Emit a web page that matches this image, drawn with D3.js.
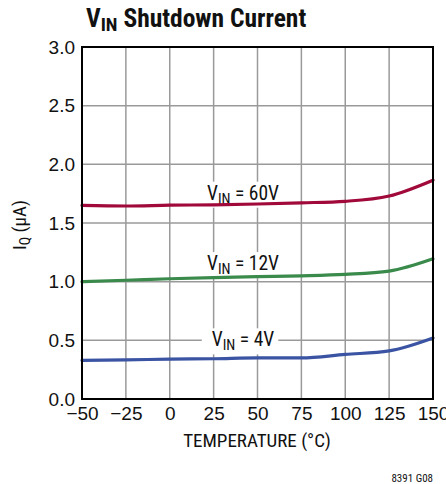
<!DOCTYPE html>
<html><head><meta charset="utf-8">
<script src="https://cdn.jsdelivr.net/npm/d3@7"></script>
<style>
html,body{margin:0;padding:0;background:#fff;}
svg text{font-family:"Liberation Sans Narrow","Arial Narrow","Roboto Condensed",sans-serif;}
</style></head>
<body><svg id="c" width="446" height="484"></svg>
<script>
const temps = [-50, -25, 0, 25, 50, 75, 100, 125, 150];
const iq60 = [1.65, 1.645, 1.652, 1.655, 1.662, 1.672, 1.685, 1.73, 1.865];
const iq12 = [1.0, 1.012, 1.025, 1.035, 1.043, 1.05, 1.062, 1.09, 1.195];
const iq4 = [0.33, 0.333, 0.34, 0.343, 0.35, 0.35, 0.38, 0.41, 0.52];
const xTicks = [-50, -25, 0, 25, 50, 75, 100, 125, 150];
const yTicks = [0, 0.5, 1.0, 1.5, 2.0, 2.5, 3.0];
const seriesNames = ["60V", "12V", "4V"];
const seriesColors = ["#a0093a", "#3a8a4c", "#3a53a3"];

const svg = d3.select("#c");
const L = 82, R = 433, T = 47, B = 399;
const x = d3.scaleLinear().domain([-50, 150]).range([L, R]);
const y = d3.scaleLinear().domain([0, 3]).range([B, T]);
const FS = 19;

// grid
svg.append("g").selectAll("line").data(xTicks.slice(1, -1)).join("line")
  .attr("x1", d => x(d)).attr("x2", d => x(d)).attr("y1", T).attr("y2", B)
  .attr("stroke", "#9a9a9a").attr("stroke-width", 1.5);
svg.append("g").selectAll("line").data(yTicks.slice(1, -1)).join("line")
  .attr("y1", d => y(d)).attr("y2", d => y(d)).attr("x1", L).attr("x2", R)
  .attr("stroke", "#9a9a9a").attr("stroke-width", 1.5);

// axes
const fmtY = d3.format(".1f");
const xAxis = d3.axisBottom(x).tickValues(xTicks).tickSize(0).tickPadding(8)
  .tickFormat(d => d < 0 ? "\u2212" + Math.abs(d) : d);
const yAxis = d3.axisLeft(y).tickValues(yTicks).tickSize(0).tickPadding(7).tickFormat(fmtY);
const gx = svg.append("g").attr("transform", `translate(0,${B})`).call(xAxis);
const gy = svg.append("g").attr("transform", `translate(${L},0)`).call(yAxis);
[gx, gy].forEach(g => {
  g.select(".domain").remove();
  g.selectAll("text").attr("font-size", FS).attr("fill", "#111")
   .style("font-family", '"Liberation Sans Narrow","Arial Narrow",sans-serif');
});
gx.selectAll("text").attr("dy", "0.71em");

// labels with white boxes
const labelY = [1.75, 1.15, 0.5];
const labelX = [243, 243, 243];
const labels = svg.append("g");
seriesNames.forEach((n, i) => {
  const g = labels.append("g");
  const t = g.append("text").attr("x", labelX[i]).attr("y", y(labelY[i]) + 6)
    .attr("text-anchor", "middle").attr("font-size", FS + 0.5).attr("fill", "#111");
  t.append("tspan").text("V");
  t.append("tspan").attr("font-size", 14.5).attr("dy", 4).text("IN");
  t.append("tspan").attr("dy", -4).text(" = " + n);
  const bb = t.node().getBBox();
  const pad = i === 2 ? 10 : 4;
  g.insert("rect", "text").attr("x", bb.x - pad).attr("y", bb.y).attr("width", bb.width + pad + 4)
    .attr("height", bb.height).attr("fill", "#fff");
});

// lines
const line = d3.line().x((d, i) => x(temps[i])).y(d => y(d)).curve(d3.curveMonotoneX);
[iq60, iq12, iq4].forEach((s, i) => {
  svg.append("path").attr("d", line(s)).attr("fill", "none")
    .attr("stroke", seriesColors[i]).attr("stroke-width", 3.2).attr("stroke-linecap", "round");
});

// frame
svg.append("rect").attr("x", L).attr("y", T).attr("width", R - L).attr("height", B - T)
  .attr("fill", "none").attr("stroke", "#000").attr("stroke-width", 2);

// title
const tt = svg.append("text").attr("x", 86).attr("y", 27).attr("font-size", 25.5)
  .attr("font-weight", "bold").attr("fill", "#111");
tt.append("tspan").text("V");
tt.append("tspan").attr("font-size", 19).attr("dy", 4).text("IN");
tt.append("tspan").attr("dy", -4).text(" Shutdown Current");

// axis titles
svg.append("text").attr("x", 257).attr("y", 447).attr("text-anchor", "middle")
  .attr("font-size", FS).attr("fill", "#111").text("TEMPERATURE (°C)");
const yt = svg.append("text").attr("transform", `translate(26,${y(1.5) + 2}) rotate(-90)`)
  .attr("text-anchor", "middle").attr("font-size", FS).attr("fill", "#111");
yt.append("tspan").text("I");
yt.append("tspan").attr("font-size", 14).attr("dy", 4).text("Q");
yt.append("tspan").attr("dy", -4).text(" (µA)");

svg.append("text").attr("x", 433).attr("y", 482).attr("text-anchor", "end")
  .attr("font-size", 11).attr("fill", "#111").text("8391 G08");
</script></body></html>
